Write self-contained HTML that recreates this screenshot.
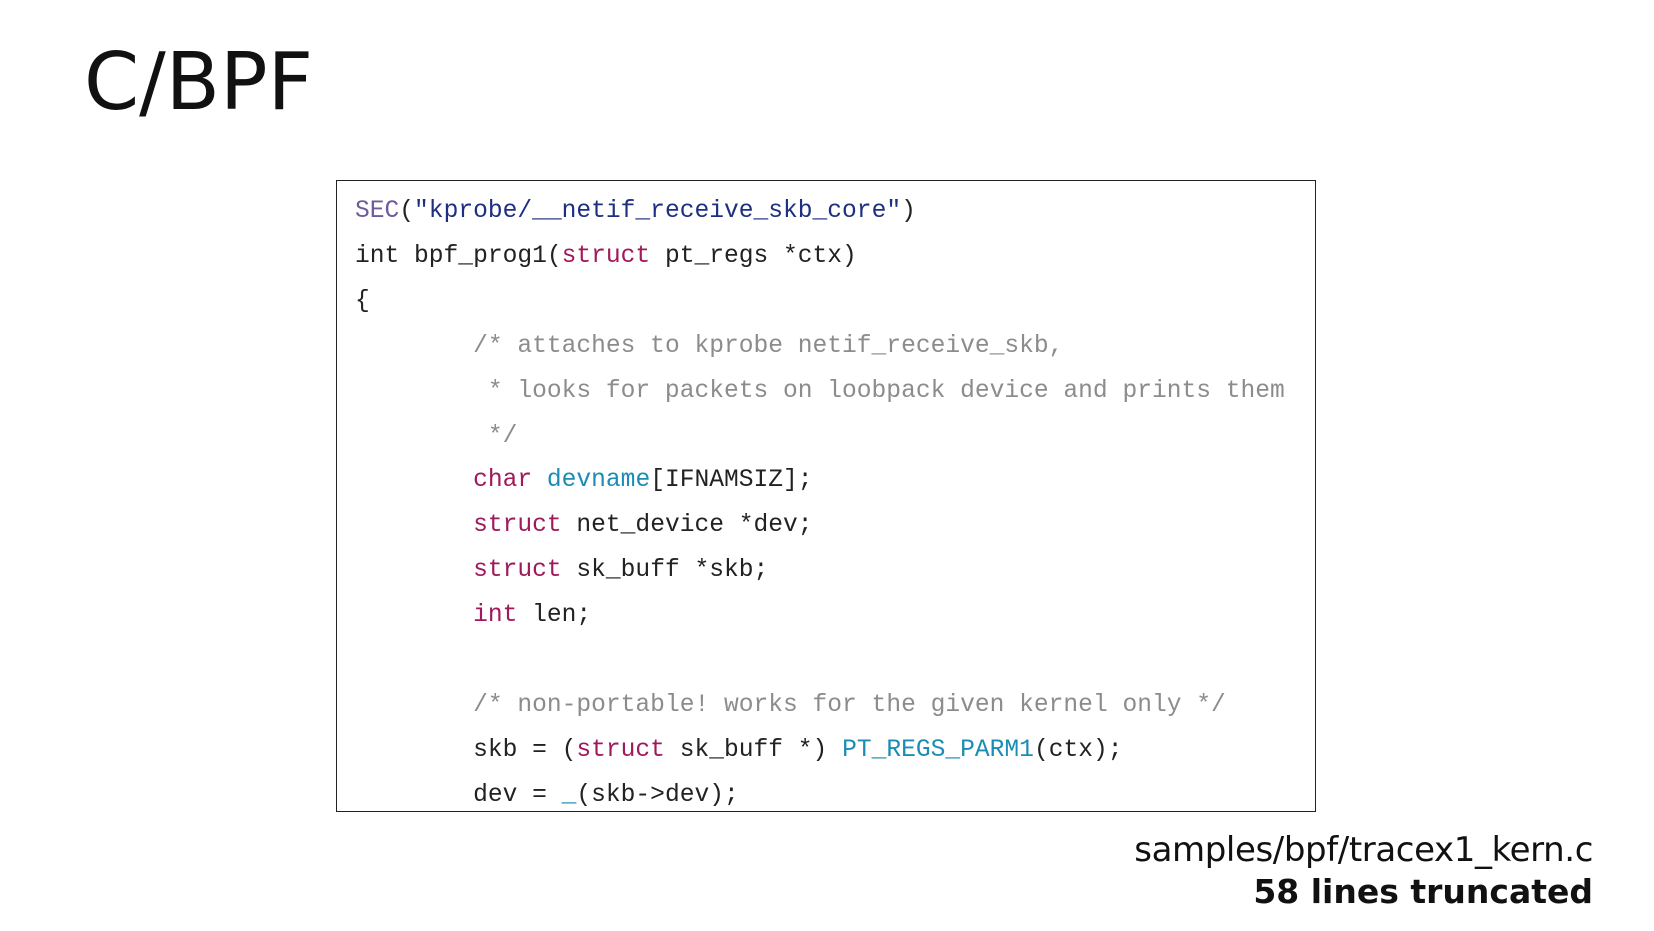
<!DOCTYPE html>
<html><head><meta charset="utf-8"><style>
html,body{margin:0;padding:0;background:#fff;width:1654px;height:931px;overflow:hidden;position:relative}
.title{position:absolute;left:84px;top:43px;font:79px "DejaVu Sans","Liberation Sans",sans-serif;color:#111;line-height:1}
.box{position:absolute;left:336px;top:180px;width:980px;height:632px;border:1.5px solid #222;box-sizing:border-box}
pre{position:absolute;left:355px;top:190px;margin:0;font:24.6px "Liberation Mono",monospace;line-height:44.9px;color:#222;white-space:pre}
.m{color:#6e5b9c}.s{color:#1e2f82}.k{color:#a0195a}.t{color:#1b8db4}.c{color:#8c8c8c}
.foot{position:absolute;right:54px;text-align:right;font-family:"DejaVu Sans","Liberation Sans",sans-serif;color:#111;white-space:nowrap}
</style></head><body>
<div class="title">C/BPF</div>
<div class="box"></div>
<pre><span class="m">SEC</span>(<span class="s">"kprobe/__netif_receive_skb_core"</span>)
int bpf_prog1(<span class="k">struct</span> pt_regs *ctx)
{
        <span class="c">/* attaches to kprobe netif_receive_skb,</span>
<span class="c">         * looks for packets on loobpack device and prints them</span>
<span class="c">         */</span>
        <span class="k">char</span> <span class="t">devname</span>[IFNAMSIZ];
        <span class="k">struct</span> net_device *dev;
        <span class="k">struct</span> sk_buff *skb;
        <span class="k">int</span> len;

        <span class="c">/* non-portable! works for the given kernel only */</span>
        skb = (<span class="k">struct</span> sk_buff *) <span class="t">PT_REGS_PARM1</span>(ctx);
        dev = <span class="t">_</span>(skb-&gt;dev);</pre>
<div class="foot" style="top:830px;right:61px;font-size:34px;letter-spacing:-0.4px">samples/bpf/tracex1_kern.c</div>
<div class="foot" style="top:872px;right:61px;font-size:33px;font-weight:bold">58 lines truncated</div>
</body></html>
